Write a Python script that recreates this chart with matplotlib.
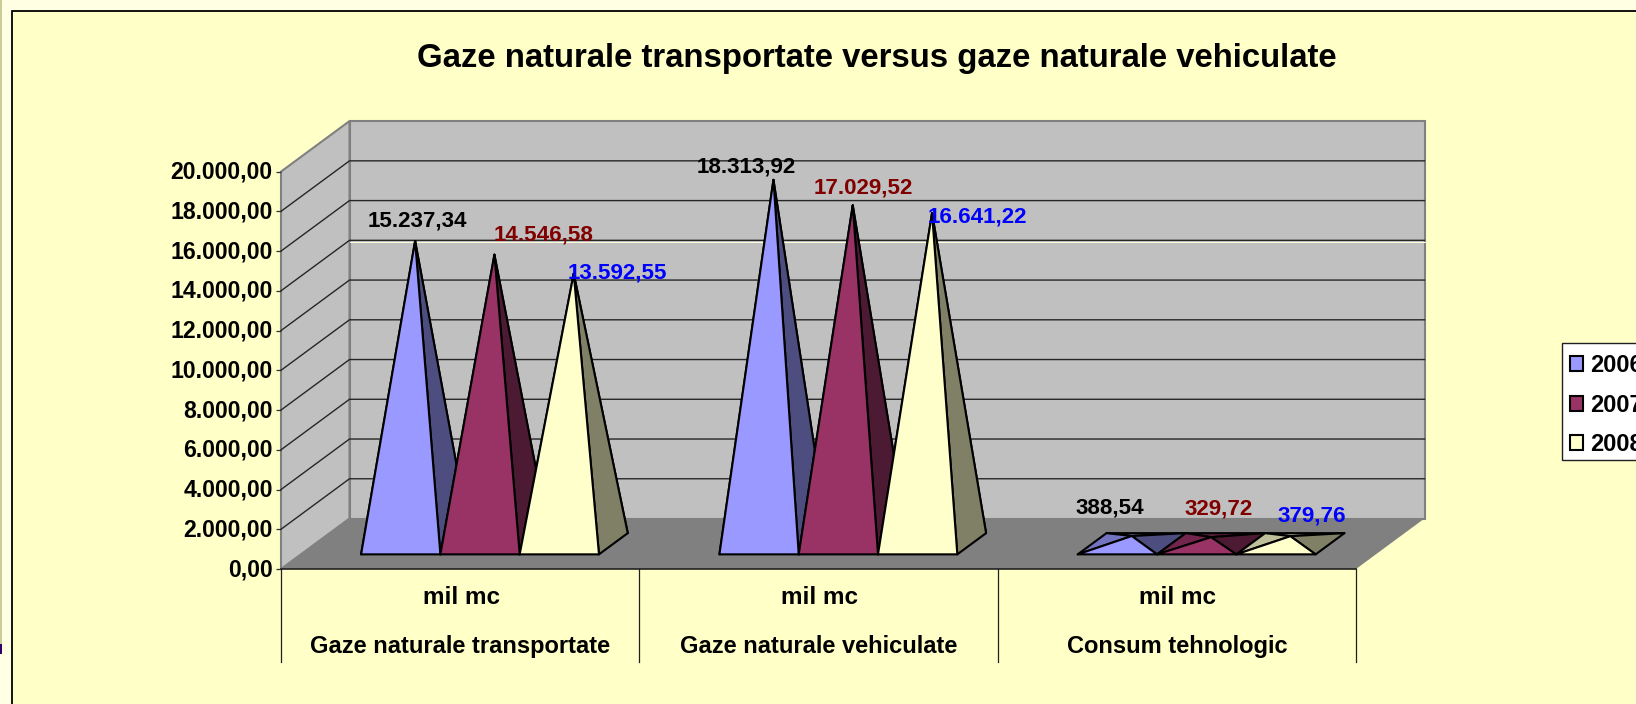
import matplotlib
matplotlib.use("Agg")
import matplotlib.pyplot as plt
from matplotlib.patches import Polygon, Rectangle, Patch
from matplotlib.ticker import FuncFormatter
from matplotlib.transforms import Affine2D

# ---- data ----
categories = ["Gaze naturale transportate", "Gaze naturale vehiculate", "Consum tehnologic"]
units = ["mil mc", "mil mc", "mil mc"]
years = ["2006", "2007", "2008"]
values_2006 = [15237.34, 18313.92, 388.54]
values_2007 = [14546.58, 17029.52, 329.72]
values_2008 = [13592.55, 16641.22, 379.76]
value_ticks = list(range(0, 20001, 2000))
title = "Gaze naturale transportate versus gaze naturale vehiculate"

# ---- style ----
W, H = 1636, 704
FONT = "Liberation Sans"
INNER = "#FFFFC8"
OUTER = "#FFFFE4"
series_colors = ["#9999FF", "#993366", "#FFFFCC"]
label_colors = ["#000000", "#800000", "#0000FF"]
series = [values_2006, values_2007, values_2008]
# data label offsets from the apex, px (per category, per series)
label_offsets = [
    [(2, 20), (49, 20), (44, 1)],
    [(-27, 13), (11, 17), (45, -4)],
    [(-22, 28), (8, 28), (21, 20)],
]

X0, X1 = 281, 1356
Y0, Y20 = 569, 171.6
DEPTH_PX = (68.5, 50.5)

fig = plt.figure(figsize=(W / 100, H / 100), dpi=100, facecolor=OUTER)
ax = fig.add_axes([X0 / W, 1 - Y0 / H, (X1 - X0) / W, (Y0 - Y20) / H], facecolor="none")
ax.set_xlim(0, len(categories))
ax.set_ylim(0, 20000)

CAT_PX = (X1 - X0) / len(categories)
VAL_PX = (Y0 - Y20) / 20000
DX = DEPTH_PX[0] / CAT_PX
DY = DEPTH_PX[1] / VAL_PX


def proj(x, v, d):
    """Oblique projection of category position, value and depth (0..1)."""
    return x + d * DX, v + d * DY


# page frame (only top and left edges fall inside the picture)
fig.patches.append(Rectangle((11.5 / W, -0.1), 1.1, 1.1 - 11.5 / H, transform=fig.transFigure,
                             facecolor=INNER, edgecolor="black", linewidth=1.3, zorder=-10))
fig.patches.append(Rectangle((0, 1 - 644 / H), 1.5 / W, 644 / H, transform=fig.transFigure,
                             facecolor="#CCCC99", edgecolor="none", zorder=-9))
fig.patches.append(Rectangle((0, 1 - 654 / H), 1.5 / W, 10 / H, transform=fig.transFigure,
                             facecolor="#330066", edgecolor="none", zorder=-9))

n = len(categories)
EDGE = "#808080"
# walls
ax.add_patch(Polygon([proj(0, 0, 1), proj(n, 0, 1), proj(n, 20000, 1), proj(0, 20000, 1)],
                     closed=True, facecolor="#C0C0C0", edgecolor=EDGE, lw=1.5, clip_on=False, zorder=1))
ax.add_patch(Polygon([proj(0, 0, 0), proj(0, 0, 1), proj(0, 20000, 1), proj(0, 20000, 0)],
                     closed=True, facecolor="#C0C0C0", edgecolor=EDGE, lw=1.5, clip_on=False, zorder=1))
# gridlines
for v in value_ticks[1:-1]:
    xs, ys = zip(proj(0, v, 0), proj(0, v, 1), proj(n, v, 1))
    ax.plot(xs, ys, color="#262626", lw=1.0, clip_on=False, zorder=2, solid_joinstyle="miter")
xs, ys = zip(proj(0, 14000 - 60, 1), proj(n, 14000 - 60, 1))
ax.plot(xs, ys, color="#FFFFD8", lw=0.7, clip_on=False, zorder=2)
# floor
ax.add_patch(Polygon([proj(0, 0, 0), proj(n, 0, 0), proj(n, 0, 1), proj(0, 0, 1)],
                     closed=True, facecolor="#808080", edgecolor="none", clip_on=False, zorder=3))
xs, ys = zip(proj(0, 0, 0), proj(n, 0, 0))
ax.plot(xs, ys, color="#202020", lw=1.2, clip_on=False, zorder=4)

# category dividers
for i in range(n + 1):
    ax.plot([i, i], [0, -4700], color="#202020", lw=0.9, clip_on=False, zorder=4)


def shade(c, f):
    r, g, b = matplotlib.colors.to_rgb(c)
    return (r * f, g * f, b * f)


def fmt(v):
    return f"{v:,.2f}".replace(",", " ").replace(".", ",").replace(" ", ".")


# pyramids
BAR_W = 0.2213
D0, D1 = 0.29, 0.71
GAP = (1 - len(series) * BAR_W) / 2
zo = 5.0
for i in range(n):
    for s, vals in enumerate(series):
        left = i + GAP + s * BAR_W
        right = left + BAR_W
        mid = (left + right) / 2
        apex = proj(mid, vals[i], 0.5)
        fl, fr = proj(left, 0, D0), proj(right, 0, D0)
        bl, br = proj(left, 0, D1), proj(right, 0, D1)
        col = series_colors[s]
        faces = [([bl, br, apex], shade(col, 0.6)),
                 ([fl, bl, apex], shade(col, 0.75)),
                 ([fr, br, apex], shade(col, 0.5)),
                 ([fl, fr, apex], col)]
        for pts, fc in faces:
            ax.add_patch(Polygon(pts, closed=True, facecolor=fc, edgecolor="black", lw=1.5,
                                 joinstyle="round", clip_on=False, zorder=zo))
            zo += 0.01
        ax.annotate(fmt(vals[i]), xy=apex, xytext=label_offsets[i][s], textcoords="offset pixels",
                    ha="center", va="center", color=label_colors[s], fontsize=16.1,
                    fontfamily=FONT, fontweight="bold", zorder=20, annotation_clip=False)

# axes furniture
for sp in ax.spines.values():
    sp.set_visible(False)
ax.set_xticks([])
ax.set_yticks(value_ticks)
ax.yaxis.set_major_formatter(FuncFormatter(lambda v, _: fmt(v)))
ax.tick_params(axis="y", length=3.8, width=0.9, color="#303030", pad=2.2)
for t in ax.get_yticklabels():
    t.set_fontfamily(FONT)
    t.set_fontweight("bold")
    t.set_fontsize(16.6)
    t.set_color("black")
    t.set_transform(t.get_transform() + Affine2D().translate(0, 2))

# category labels
for i, (u, c) in enumerate(zip(units, categories)):
    ax.annotate(u, xy=(i + 0.5, 0), xytext=(1, -35), textcoords="offset pixels", ha="center", va="baseline",
                fontfamily=FONT, fontweight="bold", fontsize=17.5, annotation_clip=False)
    ax.annotate(c, xy=(i + 0.5, 0), xytext=(0, -84), textcoords="offset pixels", ha="center", va="baseline",
                fontfamily=FONT, fontweight="bold", fontsize=17, annotation_clip=False)

# title
fig.text(876.5 / W, 1 - 58 / H, title, ha="center", va="center", fontfamily=FONT,
         fontweight="bold", fontsize=23.7, color="black")

# legend: frame drawn separately so its padding can differ per side
fig.patches.append(Rectangle((1561.5 / W, 1 - 460 / H), 0.1, 117 / H, transform=fig.transFigure,
                             facecolor="white", edgecolor="#202020", linewidth=1.0, zorder=30))
handles = [Patch(facecolor=c, edgecolor="black", linewidth=1.5) for c in series_colors]
leg = fig.legend(handles, years, loc="upper left", bbox_to_anchor=(1569.5 / W, 1 - 354 / H),
                 frameon=False, prop={"family": FONT, "weight": "bold", "size": 17},
                 handlelength=0.59, handleheight=0.59, handletextpad=0.3,
                 labelspacing=0.7, borderpad=0, borderaxespad=0)
leg.set_zorder(31)

fig.savefig("out.png", dpi=100, facecolor=fig.get_facecolor())
